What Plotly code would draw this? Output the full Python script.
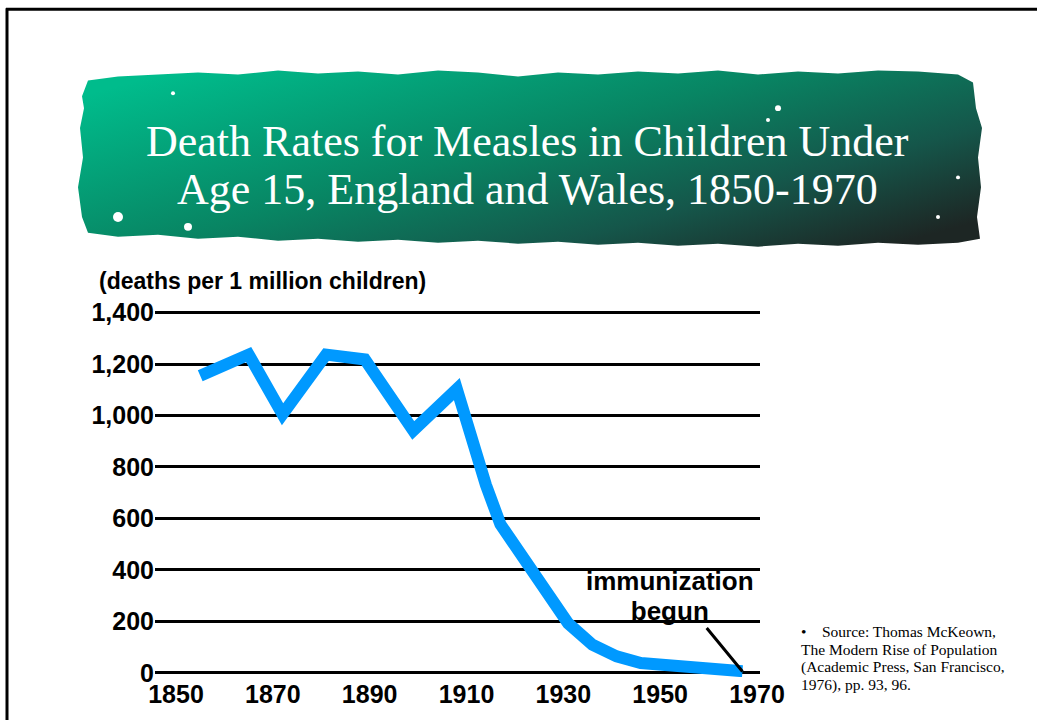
import base64
import plotly.graph_objects as go

# ---------------- data ----------------
years = [1855, 1865, 1872, 1881, 1889, 1899, 1908, 1912, 1914, 1917, 1922, 1927, 1931, 1936, 1941, 1946, 1950, 1958, 1967]
deaths = [1155, 1237, 1005, 1237, 1218, 942, 1103, 850, 731, 577, 436, 308, 192, 109, 64, 38, 33, 19, 6]

x_ticks = [1850, 1870, 1890, 1910, 1930, 1950, 1970]
x_ticklabels = ["1850", "1870", "1890", "1910", "1930", "1950", "1970"]
y_ticks = [0, 200, 400, 600, 800, 1000, 1200, 1400]
y_ticklabels = ["0", "200", "400", "600", "800", "1,000", "1,200", "1,400"]

title_lines = ["Death Rates for Measles in Children Under",
               "Age 15, England and Wales, 1850-1970"]
y_title = "(deaths per 1 million children)"
note_lines = ["immunization", "begun"]
source_lines = ["•\u00a0\u00a0\u00a0\u00a0Source: Thomas McKeown,",
                "The Modern Rise of Population",
                "(Academic Press, San Francisco,",
                "1976), pp. 93, 96."]
immunization_year = 1967
immunization_value = 5

# ---------------- layout geometry (pixels) ----------------
W, H = 1037, 720
L, R, T, B = 155, 760, 306, 681


def px(xp):
    return (xp - L) / (R - L)


def py(yp):
    return (B - yp) / (B - T)


SANS = "Liberation Sans, Arial, sans-serif"
SERIF = "Liberation Serif, Times New Roman, serif"

# ---------------- banner svg ----------------
bx0, by0, bw, bh = 78, 66, 904, 181
pts = [(4, 28), (10, 12), (40, 8), (80, 6), (120, 4), (160, 6), (200, 2), (240, 5), (280, 3), (320, 6),
       (360, 2), (400, 4), (440, 8), (480, 4), (520, 6), (560, 3), (600, 5), (640, 2), (680, 6), (720, 3),
       (760, 5), (800, 2), (840, 3), (880, 6), (895, 14),
       (898, 40), (904, 60), (900, 90), (903, 120), (899, 150), (902, 172),
       (880, 176), (840, 178), (800, 176), (760, 179), (720, 177), (680, 180), (640, 177), (600, 179),
       (560, 176), (520, 178), (480, 175), (440, 177), (400, 174), (360, 176), (320, 173), (280, 175),
       (240, 172), (200, 174), (160, 170), (120, 172), (80, 168), (40, 170), (10, 166),
       (4, 150), (0, 120), (5, 90), (2, 60), (6, 40)]
d = "M " + " L ".join(f"{a},{b}" for a, b in pts) + " Z"
specks = [(40, 150, 5), (110, 160, 4), (95, 25, 2), (700, 40, 3), (690, 52, 2), (860, 150, 2), (880, 110, 2)]
speck_svg = "".join(f'<circle cx="{a}" cy="{b}" r="{r}" fill="white"/>' for a, b, r in specks)
svg = (f'<svg xmlns="http://www.w3.org/2000/svg" width="{bw}" height="{bh}" viewBox="0 0 {bw} {bh}">'
       '<defs><linearGradient id="g" x1="0" y1="0.15" x2="1" y2="0.85">'
       '<stop offset="0" stop-color="#00BC8C"/>'
       '<stop offset="0.45" stop-color="#088563"/>'
       '<stop offset="0.75" stop-color="#15564A"/>'
       '<stop offset="1" stop-color="#1D2624"/>'
       '</linearGradient></defs>'
       f'<path d="{d}" fill="url(#g)"/>{speck_svg}</svg>')
svg_uri = "data:image/svg+xml;base64," + base64.b64encode(svg.encode()).decode()

# ---------------- figure ----------------
fig = go.Figure()
fig.add_trace(go.Scatter(x=years, y=deaths, mode="lines",
                         line=dict(color="#0099FF", width=12),
                         hoverinfo="skip", showlegend=False))

annotations = []
for txt, yc in zip(title_lines, [140, 188]):
    annotations.append(dict(text=txt, xref="paper", yref="paper", x=px(527), y=py(yc),
                            xanchor="center", yanchor="middle", showarrow=False,
                            font=dict(family=SERIF, size=44, color="white")))
annotations.append(dict(text=y_title, xref="paper", yref="paper", x=px(97), y=py(281),
                        xanchor="left", yanchor="middle", showarrow=False,
                        font=dict(family=SANS, size=23, color="black", weight="bold")))
note_text = "<br>".join(f'<span style="font-size:26px">{s}</span>' for s in note_lines)
annotations.append(dict(text=note_text, xref="paper", yref="paper", x=px(670), y=py(599),
                        xanchor="center", yanchor="middle", align="center", showarrow=False,
                        font=dict(family=SANS, size=23.3, color="black", weight="bold")))
annotations.append(dict(text="", x=immunization_year, y=immunization_value, xref="x", yref="y",
                        showarrow=True, arrowhead=0, arrowwidth=3, arrowcolor="black",
                        ax=-37, ay=-45, axref="pixel", ayref="pixel"))
# source note: tight leading (line spacing follows the base font size)
source_text = "<br>".join(f'<span style="font-size:15.5px">{s}</span>' for s in source_lines)
annotations.append(dict(text=source_text, xref="paper", yref="paper", x=px(799), y=py(662),
                        xanchor="left", yanchor="middle", align="left", showarrow=False,
                        font=dict(family=SERIF, size=13.5, color="black")))

shapes = [
    dict(type="line", xref="paper", yref="paper", x0=px(6), x1=px(W + 5), y0=py(6), y1=py(6),
         line=dict(color="black", width=3)),
    dict(type="line", xref="paper", yref="paper", x0=px(7), x1=px(7), y0=py(5), y1=py(H + 5),
         line=dict(color="black", width=3)),
]

fig.update_layout(
    width=W, height=H,
    margin=dict(l=L, r=W - R, t=T, b=H - B, pad=0),
    paper_bgcolor="white", plot_bgcolor="white",
    annotations=annotations, shapes=shapes,
    images=[dict(source=svg_uri, xref="paper", yref="paper", x=px(bx0), y=py(by0),
                 sizex=bw / (R - L), sizey=bh / (B - T), xanchor="left", yanchor="top",
                 sizing="stretch", layer="below")],
    xaxis=dict(range=[1845.66, 1970.62], tickvals=x_ticks, ticktext=x_ticklabels,
               showgrid=False, zeroline=False, showline=False, ticks="",
               tickfont=dict(family=SANS, size=25, color="black", weight="bold")),
    yaxis=dict(range=[-16.5, 1425.8], tickvals=y_ticks, ticktext=y_ticklabels,
               showgrid=True, gridcolor="black", gridwidth=3, zeroline=False, showline=False,
               ticks="", tickfont=dict(family=SANS, size=25, color="black", weight="bold")),
)

fig.write_html("out.html")
